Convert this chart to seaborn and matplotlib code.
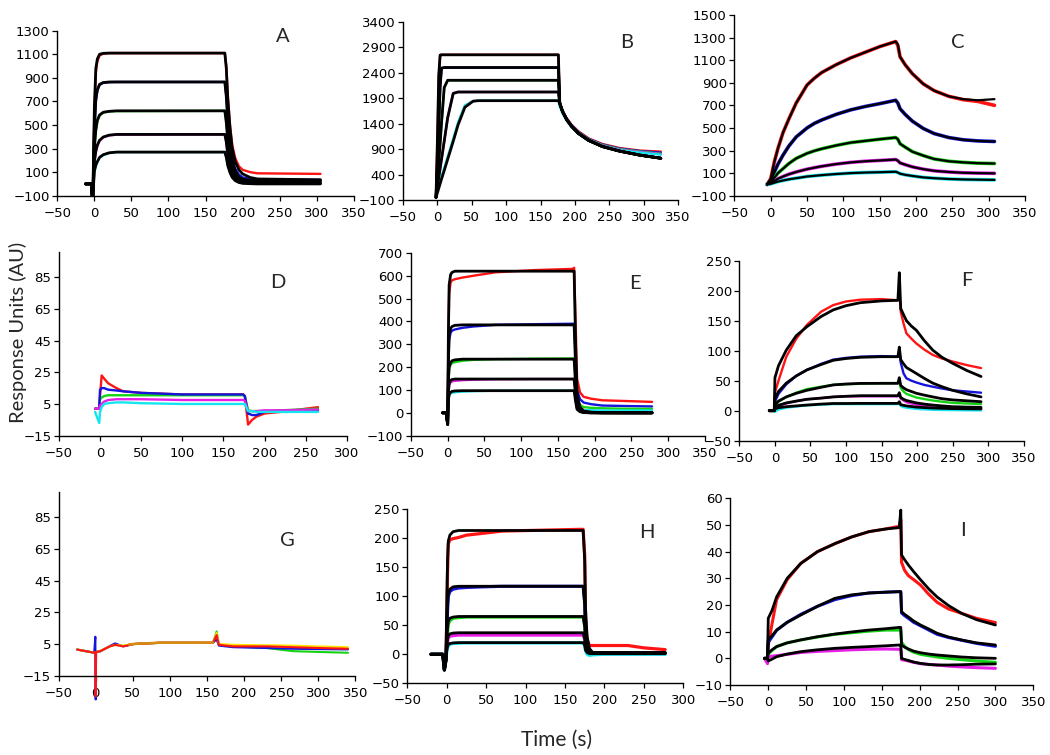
import matplotlib
matplotlib.use("Agg")
import matplotlib.pyplot as plt
import seaborn as sns

# ---------------- data ----------------
# Panel A
tA = [-12, -4, -3, -2, 0, 2, 4, 7, 12, 20, 30, 176, 178, 180, 183, 186, 190, 195, 200, 210, 220, 305]
A_red = [0, 0, -100, -100, 600, 950, 1040, 1090, 1105, 1110, 1110, 1110, 1000, 750, 500, 330, 220, 150, 120, 100, 90, 85]
A_blue = [0, 0, -100, -100, 450, 700, 790, 840, 858, 863, 865, 865, 750, 550, 350, 220, 130, 80, 55, 42, 38, 35]
A_green = [0, 0, -100, -100, 300, 450, 530, 580, 605, 615, 618, 620, 530, 380, 230, 140, 80, 50, 35, 28, 25, 25]
A_magenta = [0, 0, -100, -100, 180, 270, 320, 365, 395, 412, 418, 420, 360, 250, 150, 90, 50, 25, 15, 10, 8, 5]
A_cyan = [0, 0, -100, -100, 100, 150, 185, 220, 245, 262, 270, 270, 230, 160, 100, 60, 35, 25, 20, 20, 20, 20]
A_fit1 = [0, 0, -100, -100, 650, 980, 1060, 1100, 1108, 1110, 1110, 1110, 980, 720, 470, 300, 190, 120, 85, 55, 42, 35]
A_fit2 = [0, 0, -100, -100, 470, 720, 800, 845, 860, 865, 865, 865, 740, 530, 330, 200, 110, 60, 40, 30, 27, 25]
A_fit3 = [0, 0, -100, -100, 310, 460, 540, 585, 608, 616, 620, 620, 520, 370, 220, 130, 70, 35, 22, 16, 15, 15]
A_fit4 = [0, 0, -100, -100, 190, 280, 330, 370, 398, 414, 420, 420, 355, 245, 145, 85, 45, 20, 10, 6, 5, 5]
A_fit5 = [0, 0, -100, -100, 110, 160, 190, 225, 248, 264, 270, 270, 225, 155, 95, 55, 28, 12, 5, 2, 0, 0]

# Panel B
tB = [-2, 0, 2, 4, 6, 10, 15, 23, 30, 40, 52, 60, 176, 178, 182, 188, 195, 205, 220, 240, 265, 295, 325]
B_red = [-50, 1000, 2300, 2740, 2750, 2750, 2750, 2750, 2750, 2750, 2750, 2750, 2750, 1800, 1650, 1510, 1380, 1250, 1110, 1000, 920, 870, 850]
B_blue = [-50, 600, 1300, 2100, 2480, 2500, 2500, 2500, 2500, 2500, 2500, 2500, 2500, 1790, 1640, 1500, 1370, 1240, 1100, 990, 910, 860, 830]
B_green = [-50, 300, 650, 1000, 1400, 2100, 2250, 2250, 2250, 2250, 2250, 2250, 2250, 1780, 1630, 1490, 1360, 1230, 1090, 980, 900, 850, 810]
B_magenta = [-50, 150, 330, 510, 690, 1050, 1500, 2000, 2020, 2020, 2020, 2020, 2020, 1770, 1620, 1480, 1350, 1220, 1080, 970, 890, 840, 800]
B_cyan = [-50, 90, 180, 270, 360, 530, 750, 1100, 1420, 1760, 1840, 1850, 1850, 1740, 1600, 1460, 1330, 1200, 1060, 960, 880, 830, 790]
B_fit1 = [-50, 1050, 2350, 2745, 2750, 2750, 2750, 2750, 2750, 2750, 2750, 2750, 2750, 1800, 1640, 1480, 1350, 1210, 1070, 950, 860, 780, 720]
B_fit2 = [-50, 620, 1320, 2120, 2490, 2500, 2500, 2500, 2500, 2500, 2500, 2500, 2500, 1800, 1640, 1480, 1350, 1210, 1070, 950, 860, 780, 720]
B_fit3 = [-50, 310, 660, 1010, 1410, 2110, 2250, 2250, 2250, 2250, 2250, 2250, 2250, 1800, 1640, 1480, 1350, 1210, 1070, 950, 860, 780, 720]
B_fit4 = [-50, 160, 340, 520, 700, 1060, 1520, 1990, 2020, 2020, 2020, 2020, 2020, 1800, 1640, 1480, 1350, 1210, 1070, 950, 860, 780, 720]
B_fit5 = [-50, 40, 130, 220, 310, 480, 700, 1050, 1370, 1720, 1840, 1850, 1850, 1800, 1640, 1480, 1350, 1210, 1070, 950, 860, 780, 720]

# Panel C
tC = [-5, 0, 5, 10, 17, 25, 35, 50, 60, 70, 90, 110, 130, 150, 172, 175, 178, 185, 195, 210, 225, 245, 265, 285, 308]
C_red = [0, 50, 200, 320, 460, 580, 720, 880, 940, 990, 1060, 1120, 1170, 1220, 1265, 1230, 1130, 1060, 980, 890, 830, 780, 750, 735, 700]
C_blue = [0, 30, 110, 180, 260, 340, 420, 500, 540, 570, 620, 660, 690, 715, 745, 720, 670, 620, 560, 495, 450, 415, 395, 385, 380]
C_green = [0, 20, 60, 100, 140, 185, 230, 275, 297, 315, 345, 370, 385, 400, 415, 400, 360, 330, 290, 255, 225, 205, 195, 188, 185]
C_magenta = [0, 10, 30, 50, 70, 90, 110, 135, 148, 160, 180, 195, 205, 212, 220, 210, 190, 175, 155, 135, 120, 110, 103, 100, 98]
C_cyan = [0, 5, 15, 25, 35, 45, 55, 70, 76, 82, 92, 100, 105, 108, 112, 105, 95, 85, 75, 62, 55, 48, 44, 42, 40]
C_fit1 = [0, 50, 200, 320, 460, 580, 720, 880, 940, 990, 1060, 1120, 1170, 1220, 1265, 1240, 1130, 1060, 980, 890, 830, 780, 755, 745, 755]

# Panel D
tD = [-6, -1, 0, 2, 5, 10, 20, 28, 50, 100, 174, 176, 180, 185, 190, 200, 220, 265]
D_red = [2, 2, 10, 23, 21, 18, 15, 13, 12, 11, 11, 10, -8, -5, -3, -1, 0, 3]
D_blue = [2, 2, 14, 15, 15, 14, 13.5, 13, 12, 11, 11, 10, -1, -2, -2, 0, 0.5, 1]
D_green = [2, 2, 8, 9, 10, 10.5, 10.5, 10.5, 10.5, 10.5, 10.5, 10, 1, 0.5, 0.5, 0.5, 1, 2]
D_magenta = [2, 2, 4, 5, 6.5, 7.5, 8, 8, 8, 7.5, 7.5, 7, 0.5, 0.5, 0.5, 1, 1, 1.5]
D_cyan = [0, -7, 0, 3, 5, 5.5, 6, 6, 5.5, 5, 5, 5, 0.5, 0.5, 0, 0, 0, 0]

# Panel E
tE = [-7, -2, 0, 1, 2, 4, 6, 10, 20, 35, 65, 120, 170, 172, 174, 176, 180, 185, 195, 210, 240, 278]
E_red = [0, 0, -50, 300, 520, 570, 580, 585, 592, 600, 615, 625, 630, 635, 400, 150, 90, 70, 62, 55, 52, 48]
E_blue = [0, 0, -50, 200, 320, 350, 360, 365, 372, 378, 385, 388, 390, 390, 250, 100, 60, 45, 38, 32, 30, 28]
E_green = [0, 0, -50, 130, 190, 210, 218, 222, 228, 232, 235, 237, 238, 238, 150, 60, 35, 25, 22, 20, 18, 17]
E_magenta = [0, 0, -50, 80, 120, 133, 138, 140, 143, 145, 147, 148, 148, 148, 90, 35, 20, 12, 10, 8, 7, 6]
E_cyan = [0, 0, -50, 50, 75, 85, 88, 90, 93, 95, 97, 97, 97, 97, 60, 25, 15, 12, 11, 10, 10, 10]
E_fit1 = [0, 0, -50, 350, 560, 605, 615, 620, 620, 620, 620, 620, 620, 620, 300, 80, 25, 8, 3, 1, 0, 0]
E_fit2 = [0, 0, -50, 220, 340, 370, 378, 383, 385, 385, 385, 385, 385, 385, 200, 60, 20, 6, 2, 0, 0, 0]
E_fit3 = [0, 0, -50, 140, 200, 220, 228, 232, 235, 235, 235, 235, 235, 235, 120, 35, 12, 4, 1, 0, 0, 0]
E_fit4 = [0, 0, -50, 90, 130, 142, 146, 148, 148, 148, 148, 148, 148, 148, 75, 22, 7, 2, 0, 0, 0, 0]
E_fit5 = [0, 0, -50, 55, 80, 90, 94, 96, 97, 97, 97, 97, 97, 97, 50, 15, 5, 1, 0, 0, 0, 0]

# Panel F
tF = [-8, -1, 0, 5, 16, 30, 45, 65, 82, 100, 120, 150, 173, 175, 177, 181, 185, 192, 199, 210, 222, 235, 250, 270, 290]
F_red = [0, 0, 30, 50, 90, 120, 143, 165, 176, 182, 185, 186, 184, 200, 165, 145, 129, 120, 112, 102, 93, 87, 82, 76, 71]
F_blue = [0, 0, 15, 28, 44, 58, 68, 78, 85, 88, 90, 91, 90, 100, 80, 62, 54, 50, 47, 43, 40, 37, 34, 32, 30]
F_green = [0, 0, 8, 15, 23, 30, 36, 40, 43, 44, 45, 46, 46, 52, 38, 32, 28, 25, 22, 19.5, 17, 15, 13, 12, 11]
F_magenta = [0, 0, 4, 8, 12, 16, 19, 21, 23, 24, 24, 24, 24, 28, 20, 17, 14, 12, 10, 8.5, 7, 6, 5, 4.5, 4]
F_cyan = [0, 0, -2, 2, 5, 7, 9, 10, 11, 11, 11, 11, 11, 13, 8, 6, 5, 4, 3, 2.2, 1.5, 1.2, 1, 0.7, 0.5]
F_fit1 = [0, 0, 55, 75, 101, 125, 140, 157, 168, 175, 180, 183, 184, 230, 170, 160, 150, 141, 134, 117, 101, 89, 79, 67, 57]
F_fit2 = [0, 0, 20, 32, 46, 58, 68, 77, 84, 87, 89, 90, 90, 106, 85, 78, 72, 67, 62, 54, 46, 40, 34, 28, 23]
F_fit3 = [0, 0, 10, 16, 23, 29, 34, 39, 43, 44.5, 45.5, 45.6, 45.6, 55, 42, 38, 35, 32, 29, 26, 23, 20, 18, 16.5, 15]
F_fit4 = [0, 0, 5, 9, 13, 16, 19, 21, 23, 24, 25, 25, 25, 30, 22, 19, 17, 15, 13, 11, 9.4, 8, 6.7, 6, 5.6]
F_fit5 = [0, 0, 3, 5, 6.7, 8, 9.4, 11, 12, 12, 12.2, 12.2, 12.2, 15, 10, 9, 8, 7, 6, 5.2, 4.5, 4, 3.5, 3.2, 3]

# Panel G
tG = [-25, -2, -0.5, 0, 0.5, 6, 19, 26, 37, 51, 87, 158, 163, 166, 185, 230, 266, 300, 340]
G_red = [1.5, -0.5, -0.5, -28, 0, 0.5, 3.5, 4.5, 3.5, 5, 5.8, 5.8, 10.7, 4.5, 3.5, 3.5, 3, 2.5, 2]
G_blue = [1.5, -0.5, 9.6, -30, 0, 0.3, 3.7, 5.4, 3.5, 5, 5.8, 5.8, 8, 4, 3, 2.5, 2, 1.8, 1.6]
G_green = [1.5, -0.5, -0.5, -0.5, 0, 0.5, 3.5, 4.5, 3.8, 5, 5.8, 5.8, 13, 4.5, 3.5, 2.5, 0.5, 0, -0.5]
G_yellow = [1.5, -0.5, -0.5, -0.5, 0, 0.5, 3.5, 4.5, 4, 5, 5.8, 5.9, 12, 5, 4.5, 4.2, 4, 3.5, 3]
tG_orange = [45, 60, 87, 120, 158]
G_orange = [4.8, 5.3, 5.8, 5.8, 5.9]

# Panel H
tH = [-20, -5, -3, -1, 0, 1, 2, 4, 8, 15, 25, 45, 70, 170, 173, 175, 176, 178, 181, 185, 200, 230, 250, 277]
H_red = [0, 0, -27, -10, 60, 140, 190, 197, 199, 201, 205, 208, 212, 215, 215, 170, 60, 25, 15, 15, 15, 15, 11, 8]
H_blue = [0, 0, -27, -10, 30, 75, 100, 108, 112, 114, 115, 116, 117, 117, 117, 90, 45, 15, 5, 3, 2, 2, 2, 2]
H_green = [0, 0, -27, -10, 15, 38, 52, 58, 62, 63, 64, 64, 64, 64, 64, 50, 25, 10, 3, 1, 1, 1, 1, 1]
H_magenta = [0, 0, -27, -10, 10, 22, 28, 31, 32, 33, 33, 33, 33, 33, 33, 25, 12, 5, 2, 1, 1, 1, 1, 1]
H_cyan = [0, 0, -27, -10, 4, 10, 14, 17, 18.5, 19, 19.5, 19.5, 19.5, 19.5, 19.5, 15, 6, 0, -2, -1, 0, 0, 0, 0]
H_fit1 = [0, 0, -27, -10, 80, 160, 195, 205, 211, 213, 213, 213, 213, 213, 213, 160, 80, 30, 10, 3, 2, 2, 2, 2]
H_fit2 = [0, 0, -27, -10, 40, 85, 105, 112, 116, 117, 117, 117, 117, 117, 117, 85, 40, 15, 5, 3, 3, 3, 3, 3]
H_fit3 = [0, 0, -27, -10, 20, 45, 57, 62, 64, 65, 65, 65, 65, 65, 65, 47, 20, 8, 3, 2, 2, 2, 2, 2]
H_fit4 = [0, 0, -27, -10, 12, 26, 32, 35, 36.5, 37, 37, 37, 37, 37, 37, 27, 12, 5, 2, 2, 2, 2, 2, 2]
H_fit5 = [0, 0, -27, -10, 6, 13, 17, 18.5, 19.5, 20, 20, 20, 20, 20, 20, 15, 7, 3, 1, 1, 1, 1, 1, 1]

# Panel I
tI = [-5, -1, 0, 5, 11, 25, 43, 65, 88, 110, 133, 155, 173, 175, 176, 180, 185, 192, 201, 212, 223, 238, 255, 275, 300]
I_red = [0, 0, 5, 13, 22, 29.5, 35.6, 40, 43, 45.5, 47.5, 48.5, 49.5, 52, 36, 33, 31, 29.5, 27.5, 24, 21, 18.5, 16.9, 15, 13.4]
I_blue = [0, 0, 6, 8, 10.5, 13.5, 16.5, 19.5, 22, 23.5, 24.5, 24.8, 25, 25, 17, 16, 15, 13.5, 12.2, 10.6, 9, 7.8, 6.8, 5.6, 4.5]
I_green = [0, 0, 1.5, 3, 4.4, 5.8, 6.9, 8, 9, 9.6, 10.2, 10.6, 10.6, 10.6, 6, 4.5, 3.3, 2.3, 1.5, 1, 0.5, 0, -0.5, -1, -1.5]
I_magenta = [0, -2, 0.6, 0.8, 1, 1.5, 2.2, 2.6, 2.9, 3.2, 3.4, 3.5, 3.4, 3.4, -0.5, -0.7, -1, -1.5, -2, -2.3, -2.5, -2.9, -3.2, -3.5, -3.75]
I_fit1 = [0, 0, 15, 18, 23, 30, 35.6, 40, 43, 45.5, 47.5, 48.5, 49, 55.6, 38.75, 37, 35, 32.5, 29.5, 26, 23, 19.8, 16.9, 14.5, 12.5]
I_fit2 = [0, 0, 7, 8.5, 10.6, 13.5, 16.25, 19.5, 22.5, 23.8, 24.5, 24.8, 25, 25, 17.5, 16.5, 15.5, 14, 12.5, 11, 9.4, 8, 6.9, 5.8, 5]
I_fit3 = [0, 0, 2, 3.2, 4.4, 5.8, 6.9, 8.1, 9.1, 9.9, 10.6, 11.1, 11.6, 11.6, 5, 4.2, 3.5, 2.7, 2.1, 1.6, 1.25, 0.9, 0.5, 0.2, 0]
I_fit4 = [0, 0, -1, -0.3, 0.6, 1.6, 2.5, 3.2, 3.75, 4.1, 4.4, 4.7, 5, 5, 0, -0.4, -0.8, -1.4, -1.9, -2.3, -2.5, -2.5, -2.4, -2.2, -2.1]

panel_labels = ["A", "B", "C", "D", "E", "F", "G", "H", "I"]
y_label = "Response Units (AU)"
x_label = "Time (s)"

# ---------------- style ----------------
sns.set_style("ticks")
plt.rcParams["font.family"] = ["DejaVu Sans"]
plt.rcParams.update({
    "axes.linewidth": 1.0,
    "axes.edgecolor": "black",
    "xtick.direction": "out",
    "ytick.direction": "out",
    "xtick.major.size": 3.5,
    "ytick.major.size": 3.5,
    "xtick.major.width": 0.9,
    "ytick.major.width": 0.9,
    "xtick.major.pad": 4.5,
    "ytick.major.pad": 2,
    "xtick.labelsize": 9.5,
    "ytick.labelsize": 9.5,
    "xtick.color": "black",
    "ytick.color": "black",
})

RED, BLUE, GREEN = "#ff1414", "#1414dc", "#14d214"
MAGENTA, CYAN, YELLOW, ORANGE = "#e61ee6", "#14e6f0", "#ffe100", "#d98c14"
BLACK = "black"
DATA_LW, FIT_LW = 1.7, 2.0

W, H = 1050, 755
fig = plt.figure(figsize=(W / 100, H / 100), dpi=100)


def add_ax(x0, x1, yb, yt):
    return fig.add_axes([x0 / W, 1 - yb / H, (x1 - x0) / W, (yb - yt) / H])


def draw(ax, t, series, colors, lw, z, clip=True):
    for y, c in zip(series, colors):
        sns.lineplot(x=t, y=y, ax=ax, color=c, linewidth=lw, sort=False,
                     estimator=None, legend=False, zorder=z)
    if not clip:
        for ln in ax.lines:
            ln.set_clip_on(False)


def style(ax, xlim, xticks, ylim, yticks):
    ax.set_xlim(*xlim)
    ax.set_ylim(*ylim)
    ax.set_xticks(xticks)
    ax.set_yticks(yticks)
    ax.set_xlabel("")
    ax.set_ylabel("")
    sns.despine(ax=ax)
    ax.patch.set_alpha(0)


cols5 = [RED, BLUE, GREEN, MAGENTA, CYAN]
x350 = list(range(-50, 351, 50))
x300 = list(range(-50, 301, 50))

# A
ax = add_ax(57.3, 353.8, 195.7, 30.7)
draw(ax, tA, [A_red, A_blue, A_green, A_magenta, A_cyan], cols5, DATA_LW, 2)
draw(ax, tA, [A_fit1, A_fit2, A_fit3, A_fit4, A_fit5], [BLACK] * 5, FIT_LW, 3)
style(ax, (-50, 350), x350, (-100, 1300), list(range(-100, 1301, 200)))

# B
ax = add_ax(403, 678, 200, 21.7)
draw(ax, tB, [B_red, B_blue, B_green, B_magenta, B_cyan], cols5, DATA_LW, 2)
draw(ax, tB, [B_fit1, B_fit2, B_fit3, B_fit4, B_fit5], [BLACK] * 5, FIT_LW, 3)
style(ax, (-50, 350), x350, (-100, 3400), list(range(-100, 3401, 500)))

# C
ax = add_ax(734.4, 1025, 195.7, 15)
draw(ax, tC, [C_red, C_blue, C_green, C_magenta, C_cyan], cols5, 2.6, 2)
draw(ax, tC, [C_fit1, C_blue, C_green, C_magenta, C_cyan], [BLACK] * 5, 1.6, 3)
style(ax, (-50, 350), x350, (-100, 1500), list(range(-100, 1501, 200)))

# D
ax = add_ax(58.9, 346.8, 435.7, 251.7)
draw(ax, tD, [D_red, D_green, D_blue, D_magenta, D_cyan], [RED, GREEN, BLUE, MAGENTA, CYAN], DATA_LW, 2)
style(ax, (-50, 300), x300, (-15, 101), list(range(-15, 86, 20)))

# E
ax = add_ax(410.9, 705, 435.7, 252.9)
draw(ax, tE, [E_red, E_blue, E_green, E_magenta, E_cyan], cols5, DATA_LW, 2)
draw(ax, tE, [E_fit1, E_fit2, E_fit3, E_fit4, E_fit5], [BLACK] * 5, FIT_LW, 3)
style(ax, (-50, 350), x350, (-100, 700), list(range(-100, 701, 100)))

# F
ax = add_ax(739.4, 1023.7, 440.7, 260.7)
draw(ax, tF, [F_red, F_blue, F_green, F_magenta, F_cyan], cols5, DATA_LW, 2)
draw(ax, tF, [F_fit1, F_fit2, F_fit3, F_fit4, F_fit5], [BLACK] * 5, FIT_LW, 3)
style(ax, (-50, 350), x350, (-50, 250), list(range(-50, 251, 50)))

# G
ax = add_ax(58.6, 355.4, 675.7, 492)
draw(ax, tG, [G_green, G_blue, G_yellow, G_red], [GREEN, BLUE, YELLOW, RED], 1.5, 2, clip=False)
draw(ax, tG_orange, [G_orange], [ORANGE], 1.8, 3, clip=False)
style(ax, (-50, 350), x350, (-15, 101), list(range(-15, 86, 20)))

# H
ax = add_ax(407.3, 683.3, 683.3, 509)
draw(ax, tH, [H_red, H_blue, H_green, H_magenta, H_cyan], cols5, DATA_LW + 0.6, 2)
draw(ax, tH, [H_fit1, H_fit2, H_fit3, H_fit4, H_fit5], [BLACK] * 5, FIT_LW, 3)
style(ax, (-50, 300), x300, (-50, 250), list(range(-50, 251, 50)))

# I
ax = add_ax(730.4, 1033.3, 685, 498.3)
draw(ax, tI, [I_red, I_blue, I_green, I_magenta], [RED, BLUE, GREEN, MAGENTA], 2.2, 2)
draw(ax, tI, [I_fit1, I_fit2, I_fit3, I_fit4], [BLACK] * 4, FIT_LW, 3)
style(ax, (-50, 350), x350, (-10, 60), list(range(-10, 61, 10)))

# panel letters
letter_pos = [(283, 37), (627, 42), (958, 43), (278, 282), (635, 283),
              (967, 280), (287, 540), (647, 532), (963, 530)]
for lab, (px, py) in zip(panel_labels, letter_pos):
    fig.text(px / W, 1 - py / H, lab, ha="center", va="center",
             fontsize=14.5, family=["Lato", "DejaVu Sans"])

fig.text(18 / W, 1 - 332 / H, y_label, rotation=90, ha="center", va="center",
         fontsize=14.5, family=["Lato", "DejaVu Sans"])
fig.text(557 / W, 1 - 740 / H, x_label, ha="center", va="center",
         fontsize=15, family=["Lato", "DejaVu Sans"])

fig.savefig("out.png", dpi=100)
